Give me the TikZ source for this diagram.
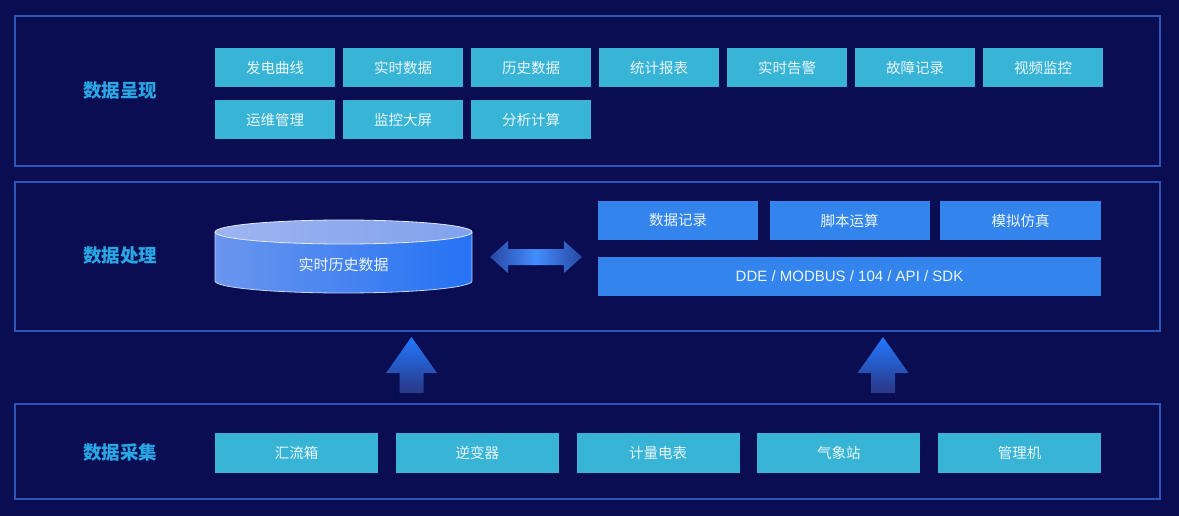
\documentclass[tikz,border=0pt]{standalone}
\usepackage{fontspec}
\setmainfont{Noto Sans CJK SC}
\newfontfamily\latinfont{Liberation Sans}
\definecolor{bg}{HTML}{0A0D52}
\definecolor{panelline}{HTML}{2E56B8}
\definecolor{cyanbox}{HTML}{38B4D6}
\definecolor{bluebox}{HTML}{3384EC}
\definecolor{labelcol}{HTML}{29A6E4}
\definecolor{boxtext}{HTML}{EAF6FB}
\definecolor{arrowtop}{HTML}{2279FF}
\definecolor{arrowbot}{HTML}{2A3785}
\definecolor{cylleft}{HTML}{6B96EE}
\definecolor{cylright}{HTML}{2472F4}
\definecolor{capleft}{HTML}{9DB4F0}
\definecolor{capright}{HTML}{80A2EE}
\tikzset{
  panel/.style={draw=panelline, line width=1.3pt},
  layerlabel/.style={text=labelcol, font=\fontsize{18.5}{18.5}\selectfont\bfseries},
  cbox/.style={fill=cyanbox, text=boxtext, minimum width=120pt, minimum height=39pt, inner sep=0pt, font=\fontsize{14.5}{14.5}\selectfont},
  bbox/.style={fill=bluebox, text=boxtext, minimum width=160pt, minimum height=39pt, inner sep=0pt, font=\fontsize{14.5}{14.5}\selectfont},
  gbox/.style={fill=cyanbox, text=boxtext, minimum width=163pt, minimum height=40pt, inner sep=0pt, font=\fontsize{14.5}{14.5}\selectfont},
  uparrow/.style={top color=arrowtop, bottom color=arrowbot, draw=none},
}
\begin{document}
\begin{tikzpicture}[x=1pt,y=-1pt]
\fill[bg] (0,0) rectangle (1179,516);
\useasboundingbox (0,0) rectangle (1179,516);

% panels
\draw[panel] (15,16) rectangle (1160,166);
\draw[panel] (15,182) rectangle (1160,331);
\draw[panel] (15,404) rectangle (1160,499);

% layer labels
\node[layerlabel] (l1) at (120,91) {数据呈现};
\node[layerlabel] (l2) at (120,256) {数据处理};
\node[layerlabel] (l3) at (120,452) {数据采集};

% top row boxes
\node[cbox] (t1) at (275,68) {发电曲线};
\node[cbox] (t2) at (403,68) {实时数据};
\node[cbox] (t3) at (531,68) {历史数据};
\node[cbox] (t4) at (659,68) {统计报表};
\node[cbox] (t5) at (787,68) {实时告警};
\node[cbox] (t6) at (915,68) {故障记录};
\node[cbox] (t7) at (1043,68) {视频监控};
\node[cbox] (t8) at (275,119.5) {运维管理};
\node[cbox] (t9) at (403,119.5) {监控大屏};
\node[cbox] (t10) at (531,119.5) {分析计算};

% cylinder
\shade[left color=cylleft, right color=cylright]
  (215,232) -- (215,281) arc[start angle=180, end angle=360, x radius=128.5pt, y radius=12pt] -- (472,232) -- cycle;
\draw[white!60!cylleft, line width=0.8pt]
  (215,232) -- (215,281) arc[start angle=180, end angle=360, x radius=128.5pt, y radius=12pt] -- (472,232);
\shade[left color=capleft, right color=capright] (343.5,232) ellipse[x radius=128.5pt, y radius=12pt];
\draw[white!70!capleft, line width=0.8pt] (343.5,232) ellipse[x radius=128.5pt, y radius=12pt];
\node[text=boxtext, font=\fontsize{15}{15}\selectfont] (db) at (343.5,265) {实时历史数据};

% double arrow
\coordinate (da) at (536,257);
\shade[left color=arrowbot!75!arrowtop, right color=arrowbot!75!arrowtop, middle color=arrowtop!85!white]
  (490,257) -- (508,241) -- (508,249) -- (564,249) -- (564,241) -- (582,257) -- (564,273) -- (564,265) -- (508,265) -- (508,273) -- cycle;

% right processing boxes
\node[bbox] (p1) at (678,220.5) {数据记录};
\node[bbox] (p2) at (849.5,220.5) {脚本运算};
\node[bbox, minimum width=161pt] (p3) at (1020.5,220.5) {模拟仿真};
\node[bbox, minimum width=503pt] (p4) at (849.5,276.5) {\latinfont\fontsize{15}{15}\selectfont DDE / MODBUS / 104 / API / SDK};

% up arrows
\shade[uparrow] (411.5,337) -- (437,373) -- (423.5,373) -- (423.5,393) -- (399.5,393) -- (399.5,373) -- (386,373) -- cycle;
\shade[uparrow] (883,337) -- (908.5,373) -- (895,373) -- (895,393) -- (871,393) -- (871,373) -- (857.5,373) -- cycle;

% bottom boxes
\node[gbox] (b1) at (296.5,453) {汇流箱};
\node[gbox] (b2) at (477.25,453) {逆变器};
\node[gbox] (b3) at (658,453) {计量电表};
\node[gbox] (b4) at (838.75,453) {气象站};
\node[gbox] (b5) at (1019.5,453) {管理机};
\end{tikzpicture}
\end{document}
